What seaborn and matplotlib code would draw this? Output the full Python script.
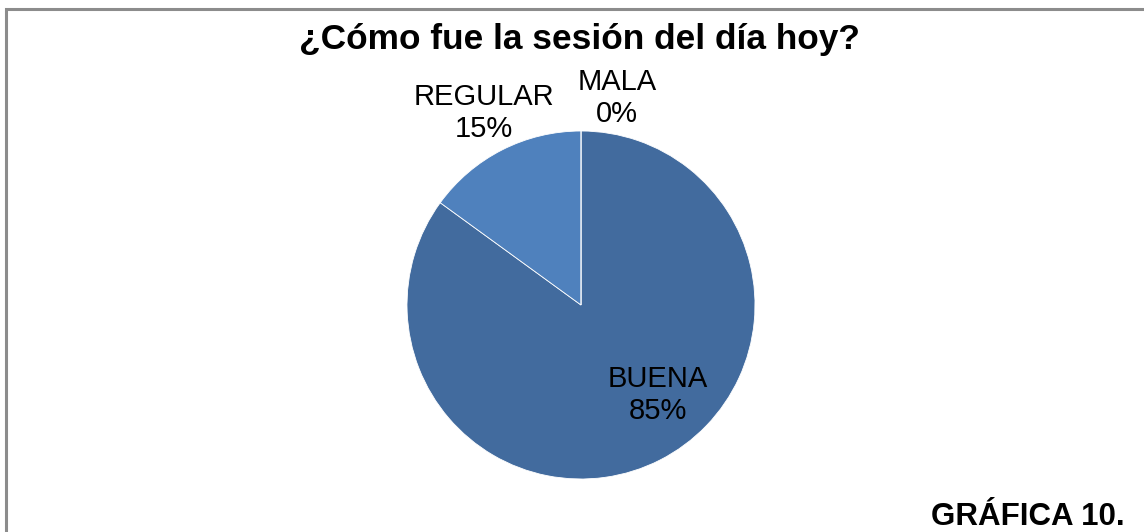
import matplotlib
matplotlib.use("Agg")
import matplotlib.pyplot as plt
import seaborn as sns
from matplotlib.patches import Rectangle

# chart data
categories = ["BUENA", "REGULAR", "MALA"]
values = [85, 15, 0]
slice_colors = ["#426B9E", "#4F81BD", "#9BBB59"]

title = "¿Cómo fue la sesión del día hoy?"
caption = "GRÁFICA 10."

sns.set_theme(style="white")
plt.rcParams["font.family"] = ["Liberation Sans", "DejaVu Sans"]

W, H = 1144, 532
fig = plt.figure(figsize=(W / 100, H / 100), dpi=100)
ax = fig.add_axes([0, 0, 1, 1])

# pie, clockwise from 12 o'clock like Excel
wedges, _ = ax.pie(values, colors=slice_colors, startangle=90, counterclock=False,
                   center=(581, H - 305), radius=174, frame=True,
                   wedgeprops=dict(edgecolor="white", linewidth=0.6))
ax.set_xlim(0, W)
ax.set_ylim(0, H)
ax.axis("off")

# data labels (positions as in the original)
label_pos = {"BUENA": (658, 395), "REGULAR": (484, 113), "MALA": (617, 98)}
for cat, val in zip(categories, values):
    x, y = label_pos[cat]
    ax.text(x, H - y, f"{cat}\n{val}%", ha="center", va="center",
            fontsize=21, color="black", linespacing=1.2)

ax.text(579, H - 39, title, ha="center", va="center", fontsize=25.4,
        fontweight="bold", color="black")
ax.text(1125, H - 517, caption, ha="right", va="center", fontsize=22.5,
        fontweight="bold", color="black")

# frame (top and left edges visible, rest cut off)
ax.add_patch(Rectangle((5.5, -20), 1300, H - 8.5 + 20, fill=False,
                       edgecolor="#8c8c8c", linewidth=2.2))

fig.savefig("out.png", dpi=100)
